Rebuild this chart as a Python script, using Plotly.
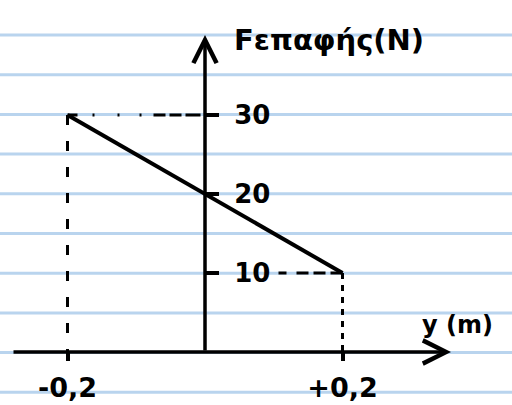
import plotly.graph_objects as go

# Contact force against position
position_m = [-0.2, 0.0, 0.2]
force_N = [30, 20, 10]

y_tick_vals = [10, 20, 30]
y_tick_text = ["10", "20", "30"]
x_tick_vals = [-0.2, 0.2]
x_tick_text = ["-0,2", "+0,2"]

W, H = 512, 405
INK = "black"
RULE = "#b9d4ee"
FONT = "DejaVu Sans"

# axis scale: pixels per unit, origin pixel
px_per_m = 687.5
px_per_N = 7.9
origin_px = (205, 352)

x_range = [(0 - origin_px[0]) / px_per_m, (W - origin_px[0]) / px_per_m]
y_range = [(origin_px[1] - H) / px_per_N, origin_px[1] / px_per_N]

fig = go.Figure()

# guide lines from the end points back to the axes
x0, x1 = position_m[0], position_m[-1]
f0, f1 = force_N[0], force_N[-1]
fig.add_trace(go.Scatter(x=[x0, 0], y=[f0, f0], mode="lines",
                         line=dict(color=INK, width=3,
                                   dash="10px,15px,2px,23px,2px,20px,2px,12px,12px,4px,12px,4px,15px"),
                         hoverinfo="skip"))
fig.add_trace(go.Scatter(x=[x0, x0], y=[f0, 0], mode="lines",
                         line=dict(color=INK, width=3, dash="10px,16px"),
                         hoverinfo="skip"))
fig.add_trace(go.Scatter(x=[x1, 0], y=[f1, f1], mode="lines",
                         line=dict(color=INK, width=3,
                                   dash="12px,5px,12px,5px,12px,10px,8px,300px"),
                         hoverinfo="skip"))
fig.add_trace(go.Scatter(x=[x1, x1], y=[f1, 0], mode="lines",
                         line=dict(color=INK, width=3, dash="6px,6px"),
                         hoverinfo="skip"))

# the force line itself
fig.add_trace(go.Scatter(x=position_m, y=force_N, mode="lines",
                         line=dict(color=INK, width=4),
                         hoverinfo="skip"))

# ruled notebook lines
rule_first, rule_step = 35, 39.7
shapes = []
k = 0
while rule_first + k * rule_step < H:
    yp = 1 - (rule_first + k * rule_step) / H
    shapes.append(dict(type="line", xref="paper", yref="paper", x0=0, x1=1,
                       y0=yp, y1=yp, layer="below",
                       line=dict(color=RULE, width=3)))
    k += 1

# axis lines with open arrow heads
x_tip = (451 - origin_px[0]) / px_per_m
x_tail = (12 - origin_px[0]) / px_per_m
y_tip = (origin_px[1] - 35) / px_per_N
annotations = [
    dict(x=x_tip, y=0, ax=x_tail, ay=0, xref="x", yref="y", axref="x", ayref="y",
         text="", showarrow=True, arrowhead=5, arrowsize=1.3, arrowwidth=3.5,
         arrowcolor=INK, standoff=0, startstandoff=0),
    dict(x=0, y=y_tip, ax=0, ay=0, xref="x", yref="y", axref="x", ayref="y",
         text="", showarrow=True, arrowhead=5, arrowsize=1.3, arrowwidth=3.5,
         arrowcolor=INK, standoff=0, startstandoff=0),
    dict(x=(232 - origin_px[0]) / px_per_m, y=(origin_px[1] - 40) / px_per_N,
         xref="x", yref="y", xanchor="left", yanchor="middle", showarrow=False,
         text="Fεπαφής(N)", font=dict(family=FONT, size=29, color=INK, weight="bold")),
    dict(x=(420 - origin_px[0]) / px_per_m, y=(origin_px[1] - 325) / px_per_N,
         xref="x", yref="y", xanchor="left", yanchor="middle", showarrow=False,
         text="y (m)", font=dict(family=FONT, size=24, color=INK, weight="bold")),
]

fig.update_layout(
    width=W, height=H, autosize=False,
    margin=dict(l=0, r=0, t=0, b=0, pad=0),
    paper_bgcolor="white", plot_bgcolor="white",
    showlegend=False,
    shapes=shapes, annotations=annotations,
    xaxis=dict(range=x_range, showgrid=False, zeroline=False, showline=False,
               anchor="free", position=(H - origin_px[1]) / H, side="bottom",
               tickmode="array", tickvals=x_tick_vals, ticktext=x_tick_text,
               ticks="outside", ticklen=8, tickwidth=3.5, tickcolor=INK,
               ticklabelstandoff=4,
               tickfont=dict(family=FONT, size=27, color=INK, weight="bold"),
               fixedrange=True),
    yaxis=dict(range=y_range, showgrid=False, zeroline=False, showline=False,
               anchor="free", position=origin_px[0] / W, side="right",
               tickmode="array", tickvals=y_tick_vals, ticktext=y_tick_text,
               ticks="outside", ticklen=13, tickwidth=3.5, tickcolor=INK,
               ticklabelstandoff=10,
               tickfont=dict(family=FONT, size=26, color=INK, weight="bold"),
               fixedrange=True),
)

fig.write_html("out.html", config={"displayModeBar": False})
